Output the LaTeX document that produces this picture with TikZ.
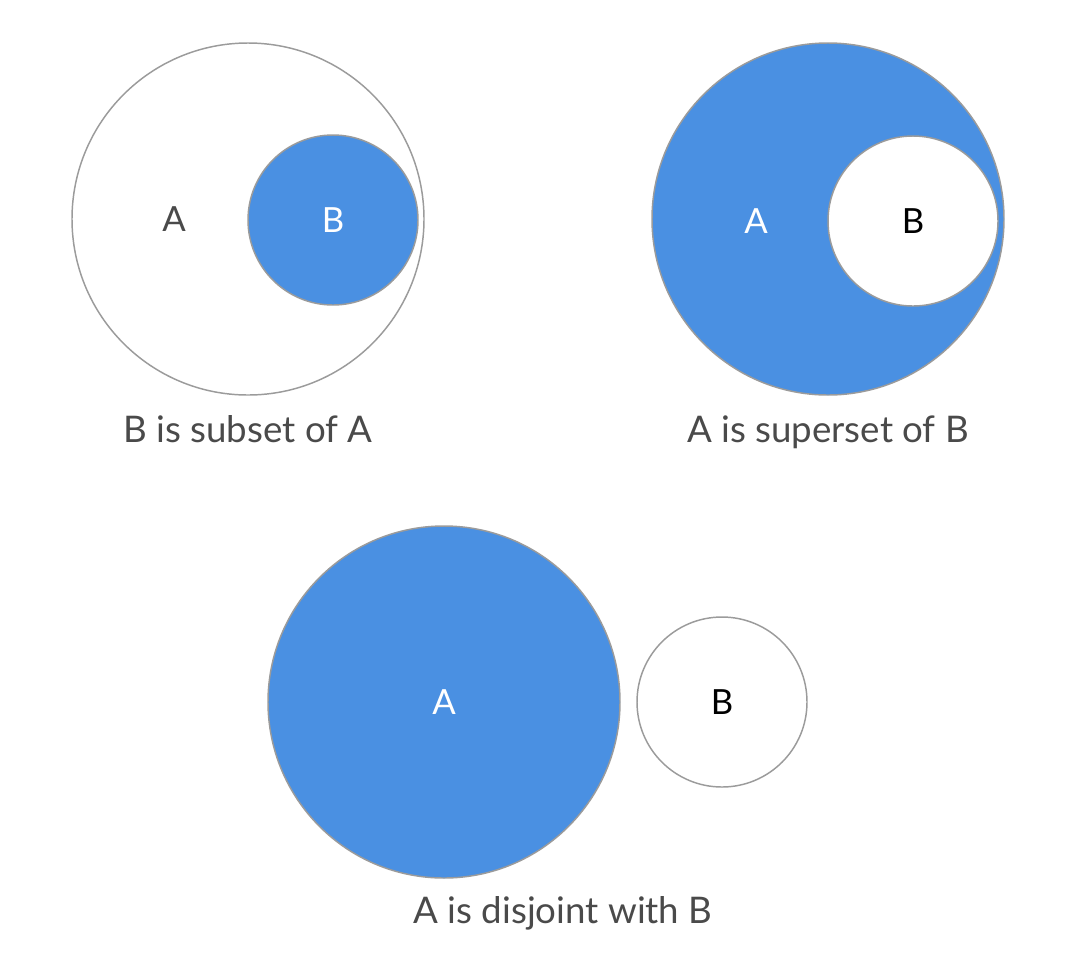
\documentclass[tikz,border=0pt]{standalone}
\usepackage{fontspec}
\setmainfont{Lato}
\usepackage{xcolor}
\usepackage{tikz}
\definecolor{SetBlue}{HTML}{4A90E2}
\definecolor{RimGrey}{HTML}{9B9B9B}
\definecolor{TextGrey}{HTML}{4A4A4A}

\begin{document}
\begin{tikzpicture}[x=0.75pt,y=-0.75pt,
 bigset/.style={circle,draw=RimGrey,line width=1.1pt,inner sep=0pt,outer sep=0pt,minimum size=264pt},
 smallset/.style={circle,draw=RimGrey,line width=1.1pt,inner sep=0pt,outer sep=0pt,minimum size=127.5pt},
 lbl/.style={font=\fontsize{26}{30}\selectfont},
 caption/.style={anchor=base,text=TextGrey,font=\fontsize{27.5}{32}\selectfont}]
\useasboundingbox (0,0) rectangle (1070,958);
% subset
\node[bigset,fill=white] (subA) at (248,219) {};
\node[smallset,fill=SetBlue,text=white,lbl] (subB) at (333,220) {B};
\node[lbl,text=TextGrey] (subAl) at (174,219) {A};
\node[caption] (subcap) at (248,442) {B is subset of A};
% superset
\node[bigset,fill=SetBlue] (supA) at (828,219) {};
\node[smallset,fill=white,text=black,lbl] (supB) at (913,221) {B};
\node[lbl,text=white] (supAl) at (756,221) {A};
\node[caption] (supcap) at (828,442) {A is superset of B};
% disjoint
\node[bigset,fill=SetBlue,text=white,lbl] (disA) at (444,702) {A};
\node[smallset,fill=white,text=black,lbl] (disB) at (722,702) {B};
\node[caption] (discap) at (563,923) {A is disjoint with B};
\end{tikzpicture}
\end{document}
